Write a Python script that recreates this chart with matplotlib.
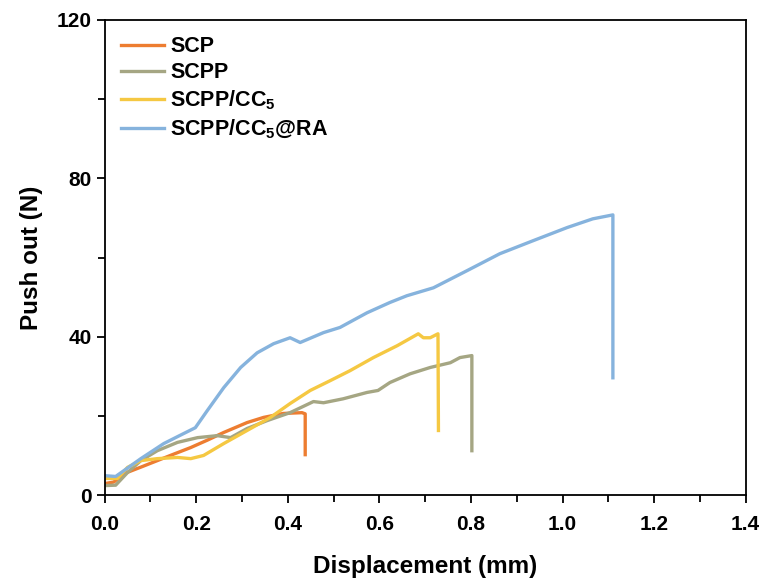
# Push-out curves
import matplotlib
matplotlib.use("Agg")
import matplotlib.pyplot as plt
from matplotlib.ticker import MultipleLocator

plt.rcParams['font.family'] = ['Liberation Sans', 'DejaVu Sans']
plt.rcParams['font.weight'] = 'bold'
plt.rcParams['mathtext.fontset'] = 'custom'
plt.rcParams['mathtext.rm'] = 'Liberation Sans:bold'
plt.rcParams['mathtext.bf'] = 'Liberation Sans:bold'

# Data
scp_x = [0.0, 0.02, 0.042, 0.08, 0.115, 0.15, 0.188, 0.225, 0.26, 0.311, 0.347, 0.39, 0.431, 0.438, 0.438]
scp_y = [3.0, 3.4, 5.5, 7.2, 8.8, 10.4, 12.1, 14.0, 15.9, 18.4, 19.7, 20.7, 20.9, 20.6, 10.3]

scpp_x = [0.0, 0.024, 0.05, 0.079, 0.115, 0.159, 0.203, 0.246, 0.275, 0.311, 0.355, 0.405,
          0.456, 0.478, 0.521, 0.573, 0.597, 0.623, 0.667, 0.711, 0.755, 0.776, 0.802, 0.802]
scpp_y = [2.5, 2.6, 5.8, 8.8, 11.3, 13.4, 14.6, 15.1, 14.6, 16.9, 18.9, 20.9,
          23.7, 23.4, 24.4, 26.0, 26.5, 28.5, 30.7, 32.3, 33.5, 34.8, 35.3, 11.3]

cc5_x = [0.0, 0.028, 0.05, 0.079, 0.115, 0.159, 0.188, 0.216, 0.26, 0.311, 0.362, 0.405,
         0.449, 0.493, 0.536, 0.587, 0.639, 0.685, 0.696, 0.711, 0.728, 0.729]
cc5_y = [4.3, 4.3, 7.1, 8.8, 9.3, 9.6, 9.3, 10.1, 13.1, 16.4, 19.7, 23.2,
         26.5, 29.0, 31.5, 34.8, 37.8, 40.8, 39.8, 39.8, 40.8, 16.4]

ra_x = [0.0, 0.024, 0.079, 0.129, 0.172, 0.198, 0.224, 0.26, 0.297, 0.333, 0.369, 0.405,
        0.427, 0.478, 0.514, 0.573, 0.623, 0.66, 0.718, 0.791, 0.863, 0.936, 1.01, 1.066,
        1.11, 1.11]
ra_y = [5.0, 4.8, 9.3, 13.1, 15.6, 17.1, 21.4, 27.2, 32.3, 36.0, 38.3, 39.8,
        38.6, 41.1, 42.4, 46.1, 48.7, 50.4, 52.4, 56.7, 61.0, 64.3, 67.6, 69.8,
        70.8, 29.7]

fig = plt.figure(figsize=(7.64, 5.85), dpi=100)
ax = fig.add_axes([0.137, 0.153, 0.839, 0.813])

ax.plot(scp_x, scp_y, color='#ED7D31', lw=2.4, label='SCP')
ax.plot(scpp_x, scpp_y, color='#A5A683', lw=2.4, label='SCPP')
ax.plot(cc5_x, cc5_y, color='#F5C842', lw=2.4, label=r'SCPP/CC$_\mathbf{5}$')
ax.plot(ra_x, ra_y, color='#86B3DD', lw=2.4, label=r'SCPP/CC$_\mathbf{5}$@RA')

ax.set_xlim(0, 1.4)
ax.set_ylim(0, 120)
ax.xaxis.set_major_locator(MultipleLocator(0.2))
ax.xaxis.set_minor_locator(MultipleLocator(0.1))
ax.yaxis.set_major_locator(MultipleLocator(40))
ax.yaxis.set_minor_locator(MultipleLocator(20))
ax.xaxis.set_major_formatter(plt.FormatStrFormatter('%.1f'))
ax.tick_params(which='major', direction='out', length=6, width=1.3, labelsize=15)
ax.tick_params(axis='x', which='major', pad=8)
ax.tick_params(which='minor', direction='out', length=5, width=1.3)
for s in ax.spines.values():
    s.set_linewidth(1.3)

ax.set_xlabel('Displacement (mm)', fontsize=17.5, fontweight='bold', labelpad=15)
ax.set_ylabel('Push out (N)', fontsize=17.5, fontweight='bold', labelpad=10)

ax.legend(loc='upper left', frameon=False, fontsize=15.5, handlelength=2.0,
          handletextpad=0.3, labelspacing=0.25, borderaxespad=0.35,
          borderpad=0.4)

fig.savefig('out.png', dpi=100)
